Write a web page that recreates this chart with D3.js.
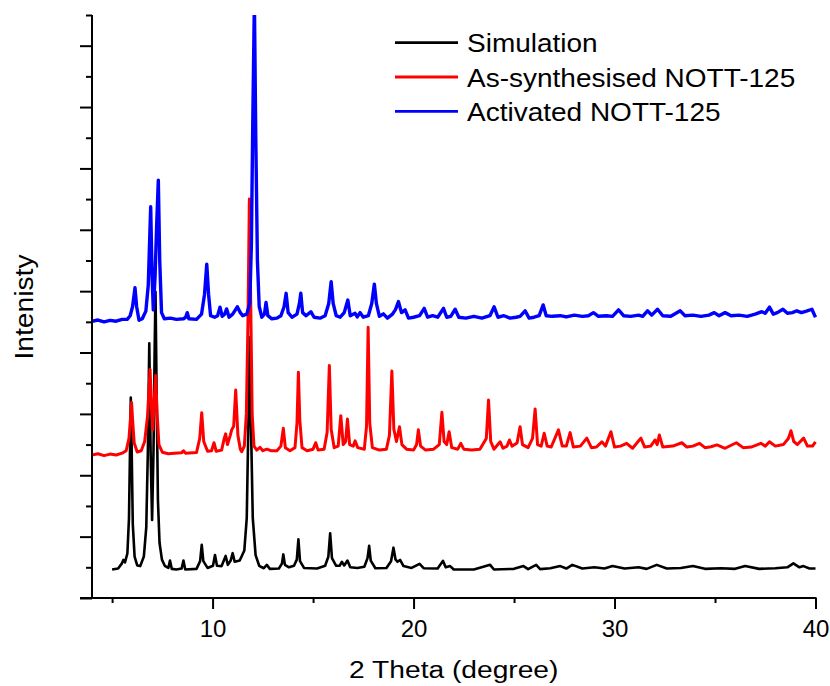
<!DOCTYPE html>
<html>
<head>
<meta charset="utf-8">
<script src="https://cdn.jsdelivr.net/npm/d3@7"></script>
<style>
  html, body { margin: 0; padding: 0; background: #fff; }
  svg { display: block; }
  text { font-family: "Liberation Sans", Arial, sans-serif; fill: #000; }
</style>
</head>
<body>
<svg id="chart" width="830" height="686"></svg>
<script>
// ---------------- DATA (2θ in degrees, intensity in arbitrary offset units) ----------------
const seriesNames = ["Simulation", "As-synthesised NOTT-125", "Activated NOTT-125"];
const seriesColors = ["#000000", "#ff0000", "#0000ff"];

const xTickValues = [5, 10, 15, 20, 25, 30, 35, 40];
const xTickLabels = ["", "10", "", "20", "", "30", "", "40"];
const yTickValues = d3.range(0, 20, 1);

const simulation = [
[5.00,0.93],[5.30,0.96],[5.48,1.12],[5.56,1.24],[5.64,1.16],[5.76,1.45],[5.84,2.6],[5.90,5.2],[5.93,6.53],[5.97,5.0],[6.03,2.4],[6.12,1.35],[6.25,1.06],[6.40,1.04],[6.58,1.35],[6.70,2.3],[6.78,4.8],[6.85,8.30],[6.92,4.6],[6.99,2.54],[7.06,4.8],[7.12,8.2],[7.16,9.98],[7.21,7.0],[7.28,3.2],[7.36,1.8],[7.48,1.25],[7.62,1.05],[7.80,0.98],[7.88,1.22],[7.97,0.95],[8.20,0.93],[8.46,0.96],[8.55,1.22],[8.64,0.93],[9.20,0.95],[9.38,1.2],[9.46,1.73],[9.54,1.2],[9.75,0.98],[10.02,1.05],[10.12,1.40],[10.22,1.05],[10.45,1.04],[10.65,1.37],[10.76,1.08],[10.90,1.22],[11.00,1.46],[11.10,1.18],[11.35,1.22],[11.58,1.55],[11.70,2.6],[11.79,6.0],[11.84,8.5],[11.90,6.0],[12.00,2.6],[12.14,1.4],[12.32,1.05],[12.55,0.97],[12.70,1.08],[12.85,0.95],[13.30,0.96],[13.45,1.12],[13.52,1.42],[13.60,1.08],[13.80,1.0],[14.05,1.05],[14.19,1.25],[14.27,1.91],[14.35,1.2],[14.55,0.98],[15.20,0.96],[15.60,1.05],[15.76,1.35],[15.85,2.11],[15.94,1.3],[16.15,1.05],[16.32,1.05],[16.43,1.18],[16.55,1.06],[16.71,1.22],[16.85,1.0],[17.20,0.98],[17.55,1.02],[17.71,1.3],[17.79,1.70],[17.87,1.22],[18.10,0.97],[18.65,0.98],[18.88,1.2],[19.00,1.64],[19.10,1.26],[19.20,1.18],[19.33,1.24],[19.50,1.04],[19.90,0.98],[20.30,1.11],[20.50,0.97],[21.20,0.96],[21.46,1.21],[21.60,1.0],[21.82,1.04],[22.00,0.93],[23.00,0.93],[23.81,1.08],[24.00,0.93],[25.00,0.95],[25.47,1.04],[25.70,0.94],[26.10,1.08],[26.30,0.94],[26.80,0.97],[27.30,1.04],[27.60,0.96],[27.90,1.08],[28.40,0.96],[29.00,1.0],[29.50,0.96],[29.90,1.04],[30.50,0.96],[31.20,1.0],[31.60,0.95],[32.10,1.08],[32.60,0.96],[33.30,0.98],[33.90,1.04],[34.50,0.95],[35.30,0.97],[36.00,0.95],[36.50,1.04],[37.20,0.95],[38.00,0.97],[38.60,1.0],[38.90,1.13],[39.20,1.0],[39.40,1.04],[39.70,0.96],[40.00,0.96]
];

const asSynthesised = [
[4.00,4.66],[4.30,4.70],[4.60,4.64],[4.90,4.69],[5.20,4.66],[5.50,4.72],[5.70,4.80],[5.84,5.2],[5.92,5.9],[5.97,6.37],[6.02,5.8],[6.10,5.05],[6.25,4.76],[6.45,4.80],[6.62,5.1],[6.76,5.9],[6.89,7.45],[6.96,6.2],[7.02,5.48],[7.10,6.5],[7.17,7.25],[7.24,6.0],[7.33,5.0],[7.50,4.75],[7.80,4.70],[8.10,4.72],[8.45,4.73],[8.55,4.80],[8.65,4.72],[9.20,4.74],[9.36,5.2],[9.46,6.04],[9.56,5.1],[9.75,4.78],[9.95,4.80],[10.07,5.06],[10.18,4.78],[10.45,4.82],[10.58,5.2],[10.65,5.35],[10.74,5.0],[10.88,5.3],[10.95,5.48],[11.05,5.6],[11.15,6.78],[11.26,5.3],[11.38,4.85],[11.45,4.77],[11.58,4.95],[11.68,6.0],[11.76,9.0],[11.83,13.0],[11.90,9.5],[11.97,6.0],[12.06,4.95],[12.20,4.82],[12.36,4.91],[12.50,4.80],[12.70,4.85],[12.90,4.80],[13.20,4.80],[13.40,4.95],[13.52,5.53],[13.62,4.9],[13.85,4.80],[14.10,4.90],[14.20,5.7],[14.27,7.36],[14.34,5.8],[14.45,4.90],[14.70,4.80],[15.00,4.85],[15.13,5.06],[15.25,4.82],[15.55,4.85],[15.70,5.4],[15.81,7.58],[15.90,5.5],[16.05,4.90],[16.25,4.95],[16.38,5.94],[16.50,5.0],[16.62,5.1],[16.71,5.83],[16.82,5.0],[17.00,4.95],[17.09,5.12],[17.22,4.9],[17.55,4.85],[17.66,5.6],[17.74,8.82],[17.82,5.7],[17.95,4.90],[18.30,4.82],[18.65,4.85],[18.80,5.3],[18.92,7.40],[19.02,5.5],[19.15,5.1],[19.30,5.58],[19.42,5.0],[19.65,4.85],[20.00,4.82],[20.15,5.0],[20.24,5.48],[20.35,4.95],[20.60,4.82],[21.00,4.85],[21.28,5.0],[21.41,6.05],[21.52,5.1],[21.65,5.0],[21.77,5.42],[21.90,4.9],[22.20,4.85],[22.35,5.04],[22.50,4.85],[22.90,4.82],[23.30,4.85],[23.62,5.2],[23.73,6.45],[23.84,5.1],[24.00,4.85],[24.31,5.09],[24.45,4.88],[24.65,4.95],[24.77,5.15],[24.90,4.95],[25.15,5.05],[25.30,5.58],[25.42,5.0],[25.70,4.90],[25.92,5.2],[26.05,6.16],[26.17,5.0],[26.35,4.95],[26.50,5.37],[26.65,4.95],[26.85,4.92],[27.21,5.48],[27.40,4.95],[27.60,4.95],[27.79,5.39],[27.95,4.92],[28.30,4.95],[28.62,5.21],[28.85,4.90],[29.10,4.92],[29.37,5.09],[29.55,4.95],[29.82,5.42],[30.00,4.92],[30.30,4.95],[30.60,5.04],[30.90,4.88],[31.31,5.21],[31.50,4.92],[31.80,4.95],[32.02,5.15],[32.12,5.0],[32.23,5.31],[32.40,4.92],[32.90,4.95],[33.35,5.06],[33.60,4.92],[33.90,4.95],[34.23,5.04],[34.50,4.90],[34.80,4.93],[35.10,4.99],[35.50,4.88],[36.06,5.06],[36.40,4.90],[36.80,4.92],[37.28,5.04],[37.50,4.95],[37.71,5.09],[38.00,4.95],[38.40,5.0],[38.65,5.2],[38.78,5.45],[38.92,5.1],[39.10,5.0],[39.41,5.21],[39.60,4.95],[39.85,4.95],[40.00,5.09]
];

const activated = [
[4.00,9.02],[4.30,9.06],[4.60,9.00],[4.90,9.05],[5.20,9.02],[5.50,9.08],[5.75,9.08],[5.90,9.2],[6.02,9.5],[6.14,10.11],[6.22,9.5],[6.34,9.05],[6.50,9.10],[6.68,9.35],[6.80,10.2],[6.92,12.75],[6.99,10.5],[7.05,9.39],[7.14,10.5],[7.22,12.2],[7.30,13.62],[7.37,11.0],[7.46,9.3],[7.60,9.10],[7.90,9.12],[8.20,9.08],[8.55,9.10],[8.66,9.15],[8.74,9.30],[8.82,9.10],[9.20,9.08],[9.45,9.25],[9.60,9.9],[9.71,10.88],[9.80,9.9],[9.90,9.2],[10.10,9.15],[10.25,9.20],[10.37,9.48],[10.48,9.18],[10.60,9.25],[10.70,9.42],[10.82,9.15],[11.00,9.25],[11.23,9.49],[11.38,9.30],[11.50,9.20],[11.70,9.25],[11.85,9.6],[11.93,11.5],[12.00,15.5],[12.08,19.5],[12.15,15.0],[12.23,11.0],[12.32,9.5],[12.45,9.15],[12.58,9.25],[12.66,9.63],[12.75,9.20],[12.95,9.10],[13.20,9.12],[13.40,9.2],[13.56,9.5],[13.66,9.93],[13.76,9.3],[13.95,9.15],[14.20,9.25],[14.32,9.6],[14.39,9.93],[14.48,9.3],[14.65,9.2],[14.89,9.33],[15.05,9.15],[15.35,9.12],[15.60,9.2],[15.78,9.6],[15.90,10.31],[16.00,9.6],[16.15,9.2],[16.35,9.15],[16.55,9.3],[16.73,9.71],[16.85,9.2],[17.09,9.28],[17.20,9.16],[17.34,9.30],[17.50,9.15],[17.75,9.2],[17.92,9.6],[18.05,10.23],[18.15,9.6],[18.30,9.18],[18.50,9.26],[18.70,9.12],[18.95,9.25],[19.10,9.4],[19.25,9.66],[19.40,9.30],[19.58,9.39],[19.75,9.12],[20.00,9.15],[20.30,9.2],[20.53,9.44],[20.70,9.15],[20.95,9.2],[21.20,9.15],[21.49,9.44],[21.65,9.15],[21.85,9.18],[22.07,9.41],[22.25,9.15],[22.60,9.12],[23.00,9.18],[23.40,9.12],[23.80,9.2],[24.01,9.49],[24.20,9.15],[24.50,9.2],[24.80,9.12],[25.10,9.15],[25.30,9.18],[25.55,9.36],[25.75,9.12],[26.00,9.15],[26.25,9.2],[26.45,9.55],[26.60,9.2],[26.90,9.18],[27.30,9.20],[27.60,9.16],[28.00,9.22],[28.40,9.18],[28.70,9.2],[28.95,9.30],[29.20,9.18],[29.60,9.20],[29.90,9.18],[30.20,9.39],[30.45,9.2],[30.80,9.18],[31.20,9.22],[31.40,9.18],[31.64,9.36],[31.85,9.22],[32.14,9.41],[32.40,9.2],[32.80,9.18],[33.27,9.36],[33.50,9.2],[33.90,9.22],[34.30,9.18],[34.70,9.22],[34.96,9.30],[35.20,9.2],[35.50,9.30],[35.80,9.2],[36.20,9.22],[36.60,9.18],[37.00,9.25],[37.33,9.33],[37.50,9.28],[37.71,9.48],[37.90,9.25],[38.10,9.30],[38.38,9.41],[38.60,9.28],[38.85,9.30],[39.07,9.36],[39.30,9.30],[39.55,9.35],[39.82,9.41],[40.00,9.15]
];

const seriesData = [simulation, asSynthesised, activated];

// ---------------- LAYOUT ----------------
const svg = d3.select("#chart");
const mLeft = 92, mRight = 815.5, mTop = 15, mBottom = 598;
const FONT = '"Liberation Sans", Arial, sans-serif';

const x = d3.scaleLinear().domain([4, 40]).range([mLeft, mRight]);
const y = d3.scaleLinear().domain([0, 19]).range([mBottom, mTop]);

svg.append("defs").append("clipPath").attr("id", "plotclip")
  .append("rect").attr("x", mLeft).attr("y", mTop).attr("width", mRight - mLeft + 2).attr("height", mBottom - mTop);

// ---------------- DATA LINES ----------------
const line = d3.line().x(d => x(d[0])).y(d => y(d[1])).curve(d3.curveLinear);
const widths = [2.6, 3, 3.4];
const gLines = svg.append("g").attr("clip-path", "url(#plotclip)");
seriesData.forEach((s, i) => {
  gLines.append("path").datum(s)
    .attr("d", line)
    .attr("fill", "none")
    .attr("stroke", seriesColors[i])
    .attr("stroke-width", widths[i])
    .attr("stroke-linejoin", "round");
});

// ---------------- AXES ----------------
const xAxis = d3.axisBottom(x).tickValues(xTickValues).tickSize(0).tickFormat("");
const gx = svg.append("g").attr("transform", `translate(0,${mBottom})`).call(xAxis);
gx.select(".domain").remove();
gx.selectAll(".tick line").remove();
gx.selectAll(".tick text").remove();
gx.selectAll(".tick").each(function(d, i) {
  const major = xTickLabels[i] !== "";
  d3.select(this).append("line")
    .attr("y1", 0).attr("y2", major ? 11 : 5)
    .attr("stroke", "#000").attr("stroke-width", 2);
  if (major) {
    d3.select(this).append("text")
      .attr("y", 39).attr("text-anchor", "middle")
      .attr("fill", "#000")
      .style("font-family", FONT).style("font-size", "24px")
      .text(xTickLabels[i]);
  }
});

const yAxis = d3.axisLeft(y).tickValues(yTickValues).tickSize(0).tickFormat("");
const gy = svg.append("g").attr("transform", `translate(${mLeft},0)`).call(yAxis);
gy.select(".domain").remove();
gy.selectAll(".tick line").remove();
gy.selectAll(".tick text").remove();
gy.selectAll(".tick").append("line")
  .attr("x1", 0).attr("x2", d => (d % 2 === 0 ? -12 : -6))
  .attr("stroke", "#000").attr("stroke-width", 2);

// axis spines
svg.append("line").attr("x1", mLeft).attr("x2", mLeft).attr("y1", mTop).attr("y2", mBottom + 1)
  .attr("stroke", "#000").attr("stroke-width", 2);
svg.append("line").attr("x1", mLeft - 12).attr("x2", mRight + 1).attr("y1", mBottom).attr("y2", mBottom)
  .attr("stroke", "#000").attr("stroke-width", 2);

// axis titles
svg.append("text")
  .attr("transform", `translate(${(mLeft + mRight) / 2},678) scale(1.15,1)`)
  .attr("text-anchor", "middle")
  .style("font-family", FONT).style("font-size", "24.5px")
  .text("2 Theta (degree)");

svg.append("text")
  .attr("transform", `translate(33,307) rotate(-90) scale(1.13,1)`)
  .attr("text-anchor", "middle")
  .style("font-family", FONT).style("font-size", "25px")
  .text("Intenisty");

// ---------------- LEGEND ----------------
const legend = svg.append("g");
seriesNames.forEach((name, i) => {
  const ly = 42.7 + i * 34.3;
  legend.append("line").attr("x1", 395).attr("x2", 458).attr("y1", ly).attr("y2", ly)
    .attr("stroke", seriesColors[i]).attr("stroke-width", 2.8);
  legend.append("text")
    .attr("transform", `translate(467,${ly + 9.6}) scale(1.12,1)`)
    .style("font-family", FONT).style("font-size", "25px")
    .text(name);
});
</script>
</body>
</html>
